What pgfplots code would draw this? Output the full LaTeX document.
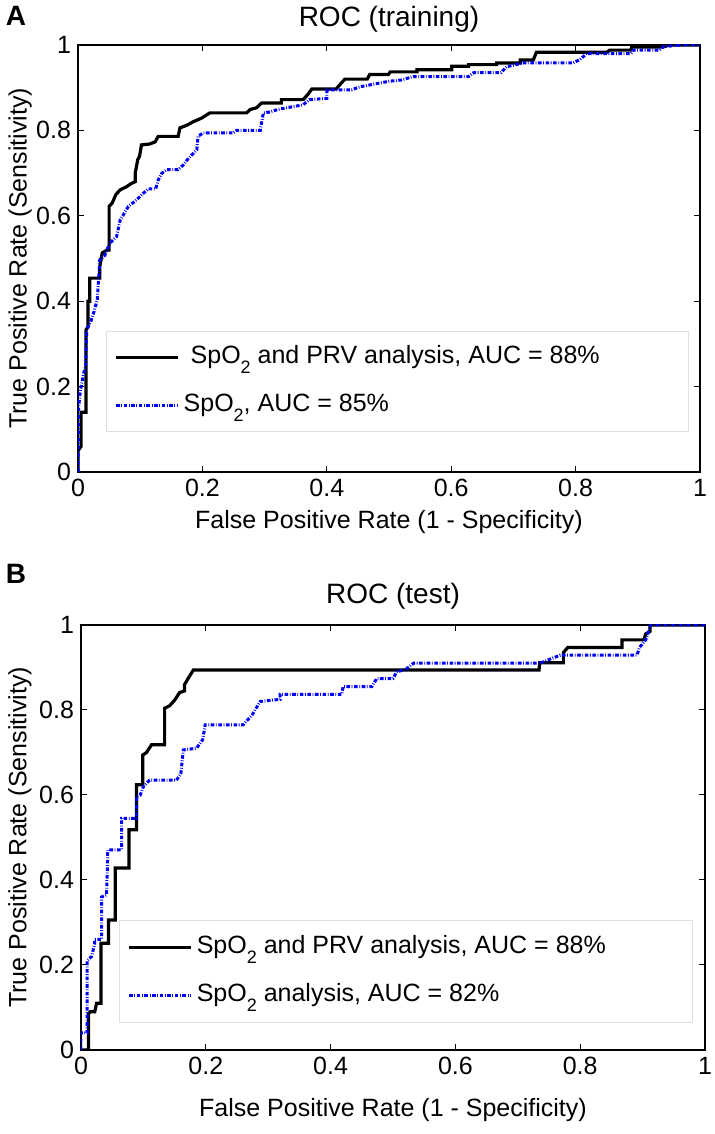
\documentclass[border=0pt]{standalone}
\usepackage{fontspec}
\setmainfont{Liberation Sans}
\usepackage{pgfplots}
\pgfplotsset{compat=1.18}
\newcommand{\sub}[1]{\raisebox{-5pt}{\fontsize{9}{9}\selectfont #1}}
\newcommand{\fs}{\fontsize{12.5}{15}\selectfont}
\pgfplotsset{
  rocaxis/.style={
    scale only axis,
    xmin=0,xmax=1,ymin=0,ymax=1,
    xtick={0,0.2,0.4,0.6,0.8,1}, ytick={0,0.2,0.4,0.6,0.8,1},
    xticklabels={0,0.2,0.4,0.6,0.8,1}, yticklabels={0,0.2,0.4,0.6,0.8,1},
    tick align=inside,
    major tick length=3pt,
    tick style={black, line width=0.5pt},
    axis line style={line width=0.6pt},
    tick label style={font=\fs},
    label style={font=\fs},
    title style={font=\fontsize{14}{16}\selectfont},
    /pgf/number format/assume math mode=true,
    legend cell align=left,
    legend image code/.code={\draw[##1] (0pt,0pt) -- (31pt,0pt);},
    legend style={
      anchor=north west,
      draw=black!12, line width=0.5pt,
      inner xsep=4pt, inner ysep=5pt,
      font=\fs,
      row sep=8pt,
      nodes={inner sep=2pt, text height=9pt, text depth=3pt},
    },
  },
  blk/.style={black, line width=1.6pt, line join=miter},
  blu/.style={blue, line width=1.5pt, dash pattern=on 1.8pt off 0.8pt on 0.4pt off 0.8pt},
}
\begin{document}
\begin{tikzpicture}
\useasboundingbox (0,0) rectangle (357pt,567pt);
\node[font=\bfseries\fontsize{14}{14}\selectfont] at (8pt,559pt) {A};
\node[font=\bfseries\fontsize{14}{14}\selectfont] at (8pt,280pt) {B};
% ---------------- Panel A ----------------
\begin{axis}[rocaxis,
  at={(39pt,331pt)}, anchor=south west,
  width=311pt, height=213.5pt,
  title={ROC (training)},
  title style={at={(axis description cs:0.5,1)}, anchor=center, yshift=7pt},
  xlabel={False Positive Rate (1 - Specificity)},
  ylabel={True Positive Rate (Sensitivity)},
  xlabel style={at={(axis description cs:0.5,-0.117)}, anchor=center},
  ylabel style={at={(axis description cs:-0.093,0.5)}, anchor=center, rotate=0},
  legend style={at={(0.045,0.330)}},
]
\addplot[blk] coordinates {
(0,0)(0,0.05)(0.005,0.06)(0.005,0.14)(0.013,0.14)(0.013,0.333)(0.016,0.34)(0.016,0.40)(0.019,0.40)(0.019,0.454)(0.035,0.454)(0.035,0.481)(0.039,0.513)(0.047,0.52)(0.050,0.52)(0.050,0.622)(0.055,0.63)(0.061,0.65)(0.068,0.661)(0.078,0.668)(0.085,0.675)(0.092,0.68)(0.092,0.70)(0.096,0.731)(0.099,0.74)(0.102,0.766)(0.115,0.768)(0.124,0.773)(0.129,0.786)(0.161,0.786)(0.164,0.806)(0.175,0.812)(0.185,0.82)(0.199,0.829)(0.212,0.841)(0.271,0.841)(0.277,0.849)(0.287,0.853)(0.295,0.864)(0.327,0.864)(0.327,0.872)(0.362,0.872)(0.370,0.885)(0.376,0.897)(0.415,0.897)(0.421,0.907)(0.429,0.920)(0.465,0.920)(0.469,0.931)(0.499,0.931)(0.502,0.937)(0.545,0.937)(0.545,0.942)(0.601,0.942)(0.601,0.950)(0.628,0.950)(0.628,0.954)(0.673,0.954)(0.673,0.958)(0.711,0.958)(0.711,0.965)(0.732,0.965)(0.737,0.983)(0.850,0.983)(0.855,0.988)(0.889,0.988)(0.890,0.995)(0.94,0.995)(0.95,1)(1,1)
};
\addlegendentry{\makebox[246.5pt][l]{\hspace{3.5pt}SpO\sub{2} and PRV analysis, AUC = 88\%}}
\addplot[blu] coordinates {
(0,0)(0.001,0.153)(0.004,0.192)(0.009,0.23)(0.012,0.247)(0.014,0.333)(0.020,0.35)(0.025,0.372)(0.031,0.403)(0.033,0.45)(0.035,0.497)(0.043,0.507)(0.051,0.536)(0.062,0.551)(0.068,0.591)(0.072,0.60)(0.081,0.622)(0.094,0.637)(0.103,0.65)(0.113,0.663)(0.125,0.663)(0.129,0.684)(0.135,0.70)(0.143,0.708)(0.161,0.708)(0.170,0.72)(0.175,0.73)(0.191,0.755)(0.193,0.786)(0.201,0.794)(0.250,0.794)(0.255,0.80)(0.293,0.80)(0.298,0.841)(0.308,0.843)(0.324,0.85)(0.340,0.854)(0.362,0.860)(0.372,0.872)(0.400,0.875)(0.400,0.895)(0.44,0.895)(0.453,0.902)(0.50,0.915)(0.52,0.918)(0.539,0.926)(0.628,0.926)(0.636,0.935)(0.680,0.935)(0.689,0.949)(0.716,0.958)(0.796,0.958)(0.807,0.966)(0.818,0.980)(0.889,0.980)(0.893,0.988)(0.935,0.988)(0.941,0.996)(0.97,1)(1,1)
};
\addlegendentry{SpO\sub{2}, AUC = 85\%}
\end{axis}
% ---------------- Panel B ----------------
\begin{axis}[rocaxis,
  at={(40.5pt,42pt)}, anchor=south west,
  width=312pt, height=212.5pt,
  title={ROC (test)},
  title style={at={(axis description cs:0.5,1)}, anchor=center, yshift=8.5pt},
  xlabel={False Positive Rate (1 - Specificity)},
  ylabel={True Positive Rate (Sensitivity)},
  xlabel style={at={(axis description cs:0.5,-0.141)}, anchor=center},
  ylabel style={at={(axis description cs:-0.098,0.5)}, anchor=center, rotate=0},
  legend style={at={(0.061,0.306)}, inner ysep=5.5pt},
]
\addplot[blk] coordinates {
(0,0)(0.012,0)(0.012,0.086)(0.015,0.09)(0.022,0.09)(0.025,0.11)(0.032,0.11)(0.032,0.251)(0.044,0.251)(0.044,0.306)(0.055,0.306)(0.055,0.428)(0.077,0.428)(0.077,0.518)(0.089,0.518)(0.089,0.624)(0.099,0.624)(0.099,0.694)(0.105,0.70)(0.113,0.718)(0.134,0.718)(0.134,0.804)(0.142,0.81)(0.15,0.823)(0.158,0.841)(0.166,0.845)(0.166,0.86)(0.172,0.875)(0.180,0.894)(0.734,0.894)(0.735,0.911)(0.773,0.911)(0.773,0.935)(0.780,0.947)(0.867,0.947)(0.867,0.965)(0.902,0.965)(0.905,0.979)(0.912,0.985)(0.912,1)(1,1)
};
\addlegendentry{\makebox[242pt][l]{SpO\sub{2} and PRV analysis, AUC = 88\%}}
\addplot[blu] coordinates {
(0,0)(0,0.04)(0.01,0.04)(0.01,0.21)(0.017,0.22)(0.022,0.25)(0.022,0.26)(0.033,0.26)(0.033,0.36)(0.041,0.365)(0.043,0.471)(0.065,0.471)(0.065,0.545)(0.089,0.545)(0.089,0.596)(0.095,0.60)(0.10,0.62)(0.110,0.635)(0.153,0.635)(0.160,0.65)(0.164,0.706)(0.185,0.71)(0.195,0.73)(0.199,0.765)(0.260,0.765)(0.275,0.79)(0.283,0.81)(0.287,0.820)(0.319,0.825)(0.319,0.837)(0.418,0.837)(0.420,0.855)(0.466,0.855)(0.474,0.874)(0.50,0.874)(0.506,0.89)(0.52,0.895)(0.533,0.91)(0.735,0.91)(0.768,0.929)(0.891,0.929)(0.895,0.947)(0.905,0.965)(0.913,1)(1,1)
};
\addlegendentry{SpO\sub{2} analysis, AUC = 82\%}
\end{axis}
\end{tikzpicture}
\end{document}
